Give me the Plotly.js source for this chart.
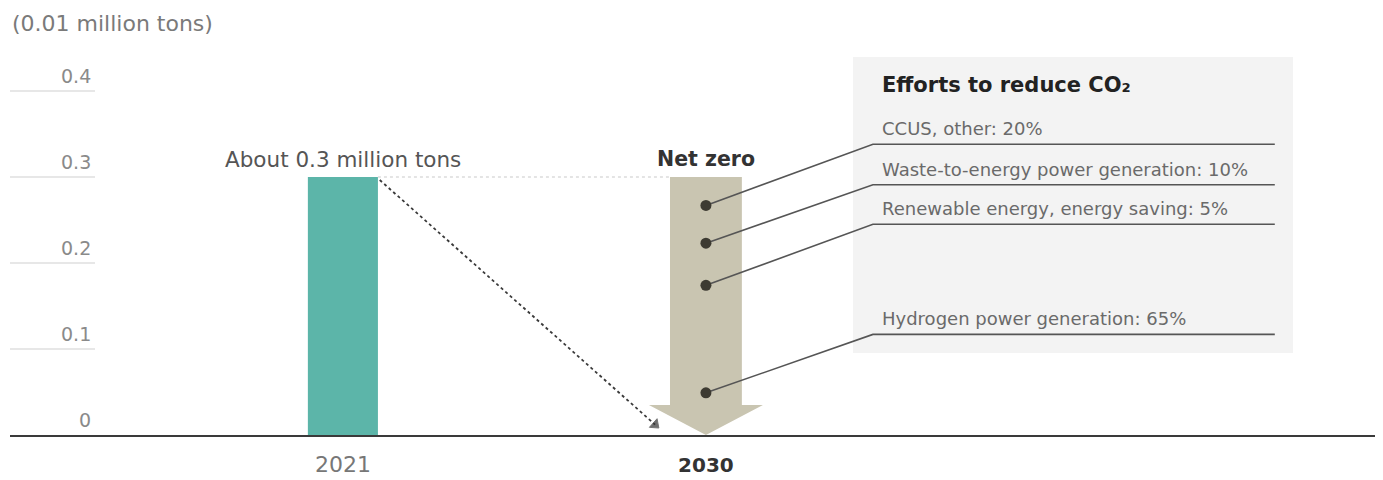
<!DOCTYPE html>
<html>
<head>
<meta charset="utf-8">
<script src="https://cdn.plot.ly/plotly-3.0.1.min.js"></script>
<style>
  html, body { margin: 0; padding: 0; background: #ffffff; }
  #chart { width: 1383px; height: 480px; }
</style>
</head>
<body>
<div id="chart"></div>
<script>
// ---- data ----
const years = ['2021', '2030'];
const emissions = [0.3, 0];                 // 0.01 million tons
const unitLabel = '(0.01 million tons)';
const barLabel = 'About 0.3 million tons';
const targetLabel = 'Net zero';
const yTickVals = [0, 0.1, 0.2, 0.3, 0.4];
const yTickText = ['0', '0.1', '0.2', '0.3', '0.4'];
const effortsTitle = 'Efforts to reduce CO\u2082';
const effortNames = [
  'CCUS, other: 20%',
  'Waste-to-energy power generation: 10%',
  'Renewable energy, energy saving: 5%',
  'Hydrogen power generation: 65%'
];
const effortDotY = [0.267, 0.223, 0.174, 0.049];   // dot level on the arrow
const effortLineY = [0.338, 0.291, 0.245, 0.117];  // label rule level

// ---- geometry / style ----
const FONT = 'DejaVu Sans, sans-serif';
const xIdx = years.map((_, i) => i);
const barW = 0.193;
const bodyHW = 0.099, headHW = 0.157, headH = 0.035;
const elbowX = 1.46, ruleEndX = 2.567, labelX = 1.479;

const traces = [];

// bar 2021
traces.push({
  type: 'bar', x: [xIdx[0]], y: [emissions[0]], width: barW,
  marker: { color: '#5cb5a9', line: { width: 0 } },
  hoverinfo: 'skip'
});

// faint dotted reference line at the 2021 level
traces.push({
  type: 'scatter', mode: 'lines',
  x: [xIdx[0] + barW / 2, xIdx[1] - bodyHW], y: [emissions[0], emissions[0]],
  line: { color: '#dcdcdc', width: 1.5, dash: 'dot' }, hoverinfo: 'skip'
});

// big downward arrow for 2030 (from 2021 level to 2030 value)
const arrTop = emissions[0], arrBot = emissions[1], arrX = xIdx[1];
traces.push({
  type: 'scatter', mode: 'lines', fill: 'toself', fillcolor: '#c9c5b1',
  x: [arrX - bodyHW, arrX + bodyHW, arrX + bodyHW, arrX + headHW, arrX, arrX - headHW, arrX - bodyHW, arrX - bodyHW],
  y: [arrTop, arrTop, arrBot + headH, arrBot + headH, arrBot, arrBot + headH, arrBot + headH, arrTop],
  line: { width: 0, color: '#c9c5b1' }, hoverinfo: 'skip'
});

// dotted trend arrow from bar top to 2030 base
traces.push({
  type: 'scatter', mode: 'lines+markers',
  x: [xIdx[0] + barW / 2 + 0.005, xIdx[1] - 0.14],
  y: [emissions[0] - 0.0035, emissions[1] + 0.012],
  line: { color: '#3a3a3a', width: 1.8, dash: 'dot' },
  marker: { symbol: ['circle', 'triangle-up'], size: [0, 10], color: '#333333', angleref: 'previous' },
  hoverinfo: 'skip'
});

// leader lines
effortNames.forEach((n, i) => {
  traces.push({
    type: 'scatter', mode: 'lines',
    x: [arrX, elbowX, ruleEndX], y: [effortDotY[i], effortLineY[i], effortLineY[i]],
    line: { color: '#555555', width: 1.6 }, hoverinfo: 'skip'
  });
});

// dots
traces.push({
  type: 'scatter', mode: 'markers',
  x: effortDotY.map(() => arrX), y: effortDotY,
  marker: { color: '#3d3b32', size: 11 }, hoverinfo: 'skip'
});

// ---- annotations ----
const annotations = [];
yTickVals.forEach((v, i) => {
  annotations.push({
    xref: 'paper', yref: 'y', x: 0.0608, y: v, xanchor: 'right', yanchor: 'bottom',
    yshift: 2, text: yTickText[i], showarrow: false,
    font: { family: FONT, size: 19, color: '#8a8a8a' }
  });
});
annotations.push({
  xref: 'paper', yref: 'paper', x: 0, y: 1, xanchor: 'left', yanchor: 'bottom', yshift: 2,
  text: unitLabel, showarrow: false, font: { family: FONT, size: 22, color: '#7a7a7a' }
});
annotations.push({
  xref: 'x', yref: 'y', x: xIdx[0], y: emissions[0], yanchor: 'bottom', yshift: 3,
  text: barLabel, showarrow: false, font: { family: FONT, size: 21.5, color: '#555555' }
});
annotations.push({
  xref: 'x', yref: 'y', x: xIdx[1], y: emissions[0], yanchor: 'bottom', yshift: 4,
  text: '<b>' + targetLabel + '</b>', showarrow: false, font: { family: FONT, size: 20.5, color: '#333333' }
});
annotations.push({
  xref: 'x', yref: 'y', x: labelX, y: 0.407, xanchor: 'left', yanchor: 'middle',
  text: '<b>' + effortsTitle + '</b>', showarrow: false, font: { family: FONT, size: 21, color: '#222222' }
});
effortNames.forEach((n, i) => {
  annotations.push({
    xref: 'x', yref: 'y', x: labelX, y: effortLineY[i], xanchor: 'left', yanchor: 'bottom',
    yshift: 3, text: n, showarrow: false, font: { family: FONT, size: 18, color: '#6a6a6a' }
  });
});

// ---- shapes ----
const shapes = [];
shapes.push({
  type: 'rect', xref: 'x', yref: 'y', x0: 1.405, x1: 2.617, y0: 0.0953, y1: 0.4395,
  fillcolor: '#f3f3f3', line: { width: 0 }, layer: 'below'
});
yTickVals.slice(1).forEach(v => {
  shapes.push({
    type: 'line', xref: 'paper', yref: 'y', x0: 0, x1: 0.0623, y0: v, y1: v,
    line: { color: '#cfcfcf', width: 1.2 }
  });
});

const layout = {
  width: 1383, height: 480,
  margin: { l: 10, r: 8, t: 40, b: 45 },
  paper_bgcolor: '#ffffff', plot_bgcolor: 'rgba(0,0,0,0)',
  showlegend: false, hovermode: false,
  xaxis: {
    type: 'linear', range: [-0.917, 2.843],
    tickvals: xIdx,
    ticktext: ['<span style="color:#777777;font-size:22px">' + years[0] + '</span>', '<b>' + years[1] + '</b>'],
    tickfont: { family: FONT, size: 20, color: '#333333' },
    showgrid: false, zeroline: false, showline: true, linecolor: '#3a3a3a', linewidth: 2,
    ticks: '', ticklabelstandoff: 11, fixedrange: true
  },
  yaxis: {
    range: [0, 0.4593], showgrid: false, zeroline: false, showticklabels: false,
    showline: false, fixedrange: true
  },
  shapes: shapes,
  annotations: annotations
};

Plotly.newPlot('chart', traces, layout, { displayModeBar: false, staticPlot: true });
</script>
</body>
</html>
